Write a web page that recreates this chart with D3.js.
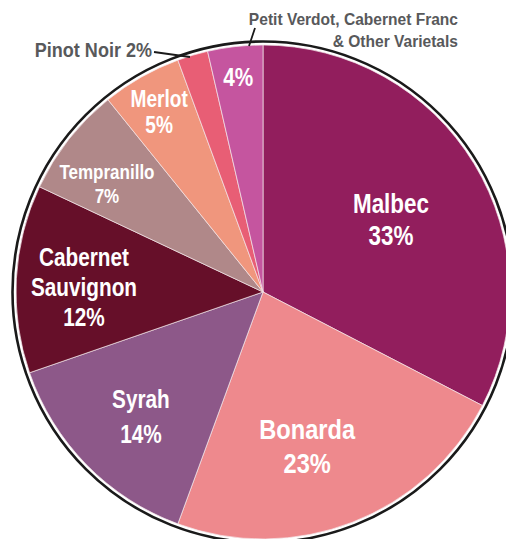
<!DOCTYPE html>
<html>
<head>
<meta charset="utf-8">
<script src="https://cdn.jsdelivr.net/npm/d3@7"></script>
<style>
  body { margin: 0; background: #fff; }
  svg { display: block; }
  text { font-family: "Liberation Sans", Arial, sans-serif; font-weight: bold; }
</style>
</head>
<body>
<svg id="chart"></svg>
<script>
// wine varietals, clockwise from 12 o'clock
const varietals = ['Malbec', 'Bonarda', 'Syrah', 'Cabernet Sauvignon', 'Tempranillo', 'Merlot', 'Pinot Noir', 'Others'];
const shares = [32.6, 23.0, 14.1, 12.3, 7.2, 5.2, 2.0, 3.6];
const shareLabels = ['33%', '23%', '14%', '12%', '7%', '5%', '2%', '4%'];
const colors = ['#921e5d', '#ee898d', '#8d5889', '#660f29', '#b08889', '#f0967d', '#e85e75', '#c5559f'];

// inside label layout: lines, radius fraction, angle nudge (deg), font size, line gap
const labelLines = [['Malbec'], ['Bonarda'], ['Syrah'], ['Cabernet', 'Sauvignon'], ['Tempranillo'], ['Merlot'], null, []];
const labelFrac = [0.596, 0.647, 0.706, 0.725, 0.769, 0.843, 0, 0.876];
const labelTurn = [1.7, 5.2, -1.1, -1.5, -3.4, -0.4, 0, -0.1];
const labelSize = [27, 28.5, 25, 25, 20.5, 23, 0, 25];
const labelGap = [32, 34, 35, 30, 24, 26.5, 0, 0];
const squeeze = 0.83;

const width = 506, height = 539;
const cx = 263, cy = 292, radius = 247;

const svg = d3.select('#chart').attr('width', width).attr('height', height);
const g = svg.append('g').attr('transform', `translate(${cx},${cy})`);

const data = varietals.map((v, i) => ({ name: v, value: shares[i], i: i }));
const pie = d3.pie().sort(null).value(d => d.value);
const arcs = pie(data);
const arc = d3.arc().innerRadius(0).outerRadius(radius);

g.selectAll('path.slice')
    .data(arcs)
    .join('path')
    .attr('class', 'slice')
    .attr('d', arc)
    .attr('fill', d => colors[d.data.i])
    .attr('stroke', '#f3e6ea')
    .attr('stroke-width', 0.7);

// outer ring
g.append('circle')
    .attr('r', radius + 3.5)
    .attr('fill', 'none')
    .attr('stroke', '#1a1a1a')
    .attr('stroke-width', 2.6);

// inside labels
arcs.forEach(d => {
    const i = d.data.i;
    if (labelLines[i] === null) return;
    const lines = labelLines[i].concat([shareLabels[i]]);
    const a = (d.startAngle + d.endAngle) / 2 + labelTurn[i] * Math.PI / 180;
    const r = radius * labelFrac[i];
    const x = Math.sin(a) * r, y = -Math.cos(a) * r;
    const fs = labelSize[i];
    const total = (lines.length - 1) * labelGap[i];
    const t = g.append('text')
        .attr('transform', `translate(${x},${y}) scale(${squeeze},1)`)
        .attr('text-anchor', 'middle')
        .attr('fill', '#fff')
        .style('font-size', fs + 'px');
    lines.forEach((line, k) => {
        t.append('tspan')
            .attr('x', 0)
            .attr('y', -total / 2 + k * labelGap[i] + fs * 0.358)
            .text(line);
    });
});

// outside labels
const gray = '#58595b';
g.append('path')
    .attr('d', `M${190 - cx},${57 - cy} L${154 - cx},${52 - cy}`)
    .attr('stroke', '#1a1a1a')
    .attr('stroke-width', 1.8)
    .attr('fill', 'none');
svg.append('text')
    .attr('transform', 'translate(152,57.3) scale(0.88,1)')
    .attr('text-anchor', 'end')
    .attr('fill', gray)
    .style('font-size', '20.5px')
    .text('Pinot Noir ' + shareLabels[6]);

g.append('path')
    .attr('d', `M${249 - cx},${46 - cy} L${255 - cx},${28 - cy}`)
    .attr('stroke', '#1a1a1a')
    .attr('stroke-width', 1.8)
    .attr('fill', 'none');
const ot = svg.append('text')
    .attr('transform', 'translate(458,0) scale(0.955,1)')
    .attr('text-anchor', 'end')
    .attr('fill', gray)
    .style('font-size', '16.3px');
ot.append('tspan').attr('x', 0).attr('y', 25).text('Petit Verdot, Cabernet Franc');
ot.append('tspan').attr('x', 0).attr('y', 46.7).text('& Other Varietals');
</script>
</body>
</html>
